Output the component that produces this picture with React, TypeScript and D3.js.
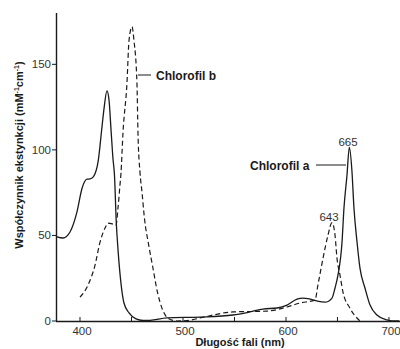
import React, { useEffect, useRef } from "react";
import * as d3 from "d3";

// chlorofil a (linia ciągła)
const chlAWave = [376.7, 378.6, 383.5, 390.3, 397, 402, 406.8, 409.7, 412.9, 417.8, 421, 423.3, 426.2, 428.2, 430.1, 432, 433.5, 435.2, 437, 439.8, 442.7, 447.6, 454.4, 461, 468, 484.5, 516.5, 548.5, 565, 577.7, 591.3, 601, 610.7, 616.5, 623.3, 630, 637.9, 644.7, 647.6, 650.5, 654.4, 656.3, 659.2, 661.5, 664, 666, 669, 671.8, 676.7, 681.6, 688.3, 698, 703, 710];
const chlAVal = [49.5, 49, 48.5, 52, 63.6, 77.6, 82.9, 83, 84.2, 94, 111.5, 124, 134.5, 129, 112, 95, 85, 58, 41, 22, 10.5, 4.7, 1.2, 0.3, 0.4, 1.8, 2.3, 3.5, 5.3, 7, 7.6, 9.3, 12.8, 13.4, 12.8, 11.7, 11, 13.4, 19.3, 26.9, 46, 66, 85, 101.5, 88, 66, 46, 31, 19.3, 9.3, 3.5, 0.6, 0, 0];

// chlorofil b (linia przerywana)
const chlBWave = [400, 407.8, 414.6, 419.4, 424.3, 427.2, 432, 435, 436.9, 438.8, 439.8, 441.7, 445.6, 447.6, 450.5, 452.4, 455.3, 456.3, 458.3, 460.2, 462.4, 466.8, 470.6, 475.4, 480.3, 485.1, 494.2, 503.9, 516.5, 548.5, 581.6, 601, 613.6, 628.2, 631, 636, 640.8, 644.7, 647.6, 649.5, 652.4, 655.3, 662, 671.8];
const chlBVal = [14, 21, 32.7, 46, 54.3, 57.2, 56.6, 56, 66, 79.4, 86.4, 109.7, 139, 164, 172, 164, 139, 109.7, 86.4, 75.3, 61, 44, 31.7, 16.3, 6.4, 1.8, 0, 0.2, 1.8, 5.3, 5.8, 8.2, 10.5, 12.3, 21, 36.8, 50.2, 57.5, 50.2, 36.8, 26.9, 17, 7.6, 0];

const yTicks = [0, 50, 100, 150];
const xTicks = [400, 450, 500, 550, 600, 650, 700];
const xTickLabels = [400, 500, 600, 700];

const App: React.FC = () => {
  const ref = useRef<SVGSVGElement | null>(null);

  useEffect(() => {
    if (ref.current) drawChart();
  }, []);

  const drawChart = () => {
    const width = 400;
    const height = 349;
    const font = "'Liberation Sans', Arial, sans-serif";
    const ink = "#1a1a1a";

    const svg = d3.select(ref.current).attr("width", width).attr("height", height);
    svg.selectAll("*").remove();

    const x = d3.scaleLinear().domain([376.7, 710.7]).range([56, 400]);
    const y = d3.scaleLinear().domain([0, 180]).range([321, 13]);

    // osie
    svg.append("line").attr("x1", 56.5).attr("x2", 56.5).attr("y1", y(180)).attr("y2", y(0))
      .attr("stroke", ink).attr("stroke-width", 1.4);
    svg.append("line").attr("x1", 56).attr("x2", 400).attr("y1", y(0) + 0.5).attr("y2", y(0) + 0.5)
      .attr("stroke", ink).attr("stroke-width", 1.4);

    yTicks.forEach((t) => {
      svg.append("line").attr("x1", 52).attr("x2", 56).attr("y1", y(t)).attr("y2", y(t))
        .attr("stroke", ink).attr("stroke-width", 1);
      svg.append("text").attr("x", 51).attr("y", y(t) + 4).attr("text-anchor", "end")
        .style("font-family", font).style("font-size", "11.5px").style("fill", "#333").text(t);
    });

    xTicks.forEach((t) => {
      svg.append("line").attr("x1", x(t)).attr("x2", x(t)).attr("y1", y(0)).attr("y2", y(0) - 4)
        .attr("stroke", ink).attr("stroke-width", 1);
    });
    xTickLabels.forEach((t) => {
      svg.append("text").attr("x", x(t) + 2).attr("y", 335).attr("text-anchor", "middle")
        .style("font-family", font).style("font-size", "11.5px").style("fill", "#333").text(t);
    });

    // podpisy osi
    svg.append("text").attr("x", 240).attr("y", 346).attr("text-anchor", "middle")
      .style("font-family", font).style("font-size", "11px").style("font-weight", "bold")
      .style("fill", ink).text("Długość fali (nm)");

    const yl = svg.append("text").attr("transform", "translate(23,155) rotate(-90)")
      .attr("text-anchor", "middle").style("font-family", font).style("font-size", "11px")
      .style("font-weight", "bold").style("fill", ink);
    yl.append("tspan").text("Współczynnik ekstynkcji (mM");
    yl.append("tspan").attr("dy", -4).style("font-size", "7px").text("-1");
    yl.append("tspan").attr("dy", 4).text("cm");
    yl.append("tspan").attr("dy", -4).style("font-size", "7px").text("-1");
    yl.append("tspan").attr("dy", 4).text(")");

    const line = d3.line<number>()
      .x((d, i) => x(d))
      .curve(d3.curveMonotoneX);

    svg.append("path")
      .attr("d", line.y((d, i) => y(chlAVal[i]))(chlAWave) as string)
      .attr("fill", "none").attr("stroke", ink).attr("stroke-width", 1.3);

    svg.append("path")
      .attr("d", line.y((d, i) => y(chlBVal[i]))(chlBWave) as string)
      .attr("fill", "none").attr("stroke", ink).attr("stroke-width", 1.2)
      .attr("stroke-dasharray", "5,3");

    // adnotacje
    svg.append("line").attr("x1", 138).attr("x2", 151).attr("y1", 75).attr("y2", 75)
      .attr("stroke", ink).attr("stroke-width", 1);
    svg.append("text").attr("x", 156).attr("y", 79.5)
      .style("font-family", font).style("font-size", "12px").style("font-weight", "bold")
      .style("fill", ink).text("Chlorofil b");

    svg.append("line").attr("x1", 316).attr("x2", 346).attr("y1", 165).attr("y2", 165)
      .attr("stroke", ink).attr("stroke-width", 1);
    svg.append("text").attr("x", 250).attr("y", 169.5)
      .style("font-family", font).style("font-size", "12px").style("font-weight", "bold")
      .style("fill", ink).text("Chlorofil a");

    svg.append("text").attr("x", 348).attr("y", 146).attr("text-anchor", "middle")
      .style("font-family", font).style("font-size", "11.5px").style("fill", "#333").text("665");
    svg.append("text").attr("x", 329).attr("y", 221).attr("text-anchor", "middle")
      .style("font-family", font).style("font-size", "11.5px").style("fill", "#333").text("643");
  };

  return <svg ref={ref} style={{ position: "absolute", left: 0, top: 0, background: "#fff" }}></svg>;
};

export default App;
